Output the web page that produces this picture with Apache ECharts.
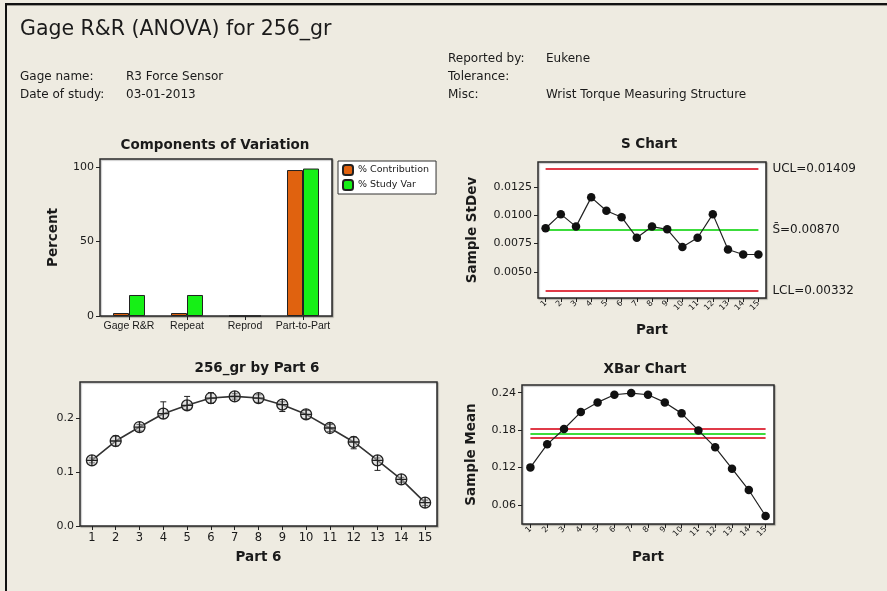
<!DOCTYPE html>
<html>
<head>
<meta charset="utf-8">
<script src="https://cdn.jsdelivr.net/npm/echarts@6/dist/echarts.min.js"></script>
<style>
html,body{margin:0;padding:0;background:#EEEBE1;}
#chart{width:887px;height:591px;}
</style>
</head>
<body>
<div id="chart"></div>
<script>
// ---------- data ----------
var components = ['Gage R&R', 'Repeat', 'Reprod', 'Part-to-Part'];
var pctContribution = [2.0, 2.0, 0.0, 98.0];
var pctStudyVar = [14.1, 14.1, 0.0, 99.0];
var percentTicks = [0, 50, 100];

var parts = ['1','2','3','4','5','6','7','8','9','10','11','12','13','14','15'];
var sValues = [0.00885, 0.0101, 0.0090, 0.01158, 0.0104, 0.00983, 0.00802, 0.0090, 0.00876, 0.00719, 0.00802, 0.0101, 0.00698, 0.00654, 0.00654];
var sUCL = 0.01409, sBar = 0.00870, sLCL = 0.00332;
var sTicks = [0.0050, 0.0075, 0.0100, 0.0125];

var partMeans = [0.1216, 0.1574, 0.1833, 0.2080, 0.2235, 0.2370, 0.2400, 0.2370, 0.2247, 0.2068, 0.1815, 0.1556, 0.1216, 0.0864, 0.0432];
var partLow  = [0.117, 0.148, 0.176, 0.199, 0.216, 0.227, 0.235, 0.229, 0.212, 0.199, 0.175, 0.143, 0.103, 0.081, 0.038];
var partHigh = [0.126, 0.167, 0.188, 0.230, 0.240, 0.247, 0.245, 0.243, 0.230, 0.214, 0.188, 0.165, 0.126, 0.090, 0.048];
var partTicks = [0.0, 0.1, 0.2];

var xbarValues = [0.1203, 0.1572, 0.1818, 0.2090, 0.2245, 0.2368, 0.2395, 0.2368, 0.2245, 0.2069, 0.1796, 0.1524, 0.1182, 0.0840, 0.0424];
var xUCL = 0.1825, xMean = 0.1750, xLCL = 0.1675;
var xbarTicks = [0.06, 0.12, 0.18, 0.24];

// ---------- styles ----------
var FONT = 'DejaVu Sans';
var TXT = '#1a1a1a';
var ORANGE = '#E0620F';
var GREEN = '#16F016';
var RED = '#E03A48';
var LGREEN = '#3CDC3C';

function frameGrid(l, t, w, h) {
  return {left: l, top: t, width: w, height: h, show: true, backgroundColor: '#ffffff',
          borderColor: '#2a2a2a', borderWidth: 1.5, containLabel: false,
          shadowColor: 'rgba(0,0,0,0.25)', shadowOffsetX: 1, shadowOffsetY: 1, shadowBlur: 1};
}
function yAx(gi, min, max, ticks, fmt, name, gap) {
  return {
    type: 'value', gridIndex: gi, min: min, max: max,
    name: name || '', nameLocation: 'middle', nameGap: gap || 0, nameRotate: 90,
    nameTextStyle: {fontFamily: FONT, fontWeight: 'bold', fontSize: 13.5, color: TXT},
    splitLine: {show: false}, axisLine: {show: false},
    axisTick: {show: true, inside: false, length: 4, lineStyle: {color: '#222'}, customValues: ticks},
    axisLabel: {fontFamily: FONT, fontSize: 11, color: TXT, margin: 6, customValues: ticks, formatter: fmt}
  };
}
function xAx(gi, labels, opts) {
  var a = {
    type: 'category', gridIndex: gi, data: labels, boundaryGap: true,
    axisLine: {show: false},
    axisTick: {show: true, alignWithLabel: true, length: 4, lineStyle: {color: '#222'}},
    axisLabel: {fontFamily: FONT, fontSize: 11, color: TXT, margin: 6, interval: 0},
    splitLine: {show: false},
    nameLocation: 'middle',
    nameTextStyle: {fontFamily: FONT, fontWeight: 'bold', fontSize: 13.5, color: TXT}
  };
  for (var k in opts) {
    if (typeof opts[k] === 'object' && !Array.isArray(opts[k]) && a[k]) { for (var j in opts[k]) a[k][j] = opts[k][j]; }
    else a[k] = opts[k];
  }
  return a;
}
function ctrlLine(v, color, label) {
  return [{coord: ['1', v], lineStyle: {color: color, width: 2, type: 'solid'},
           label: label ? {show: true, position: 'end', distance: 14, formatter: label,
                           fontFamily: FONT, fontSize: 12, color: TXT} : {show: false}},
          {coord: ['15', v]}];
}

var chart = echarts.init(document.getElementById('chart'), null, {renderer: 'canvas'});

var H = '12px ' + FONT;
var T = 'bold 13.5px ' + FONT;
var option = {
  backgroundColor: '#EEEBE1',
  animation: false,
  textStyle: {fontFamily: FONT},
  graphic: [
    {type: 'rect', shape: {x: 5, y: 3, width: 882, height: 2}, style: {fill: '#111'}},
    {type: 'rect', shape: {x: 5, y: 5, width: 882, height: 1}, style: {fill: '#9a9890'}},
    {type: 'rect', shape: {x: 5, y: 3, width: 2, height: 588}, style: {fill: '#111'}},
    {type: 'text', x: 20, y: 30, style: {text: 'Gage R&R (ANOVA) for 256_gr', font: '20.5px ' + FONT, fill: TXT, verticalAlign: 'middle'}},
    {type: 'text', x: 20, y: 77, style: {text: 'Gage name:', font: H, fill: TXT, verticalAlign: 'middle'}},
    {type: 'text', x: 126, y: 77, style: {text: 'R3 Force Sensor', font: H, fill: TXT, verticalAlign: 'middle'}},
    {type: 'text', x: 20, y: 95, style: {text: 'Date of study:', font: H, fill: TXT, verticalAlign: 'middle'}},
    {type: 'text', x: 126, y: 95, style: {text: '03-01-2013', font: H, fill: TXT, verticalAlign: 'middle'}},
    {type: 'text', x: 448, y: 59, style: {text: 'Reported by:', font: H, fill: TXT, verticalAlign: 'middle'}},
    {type: 'text', x: 546, y: 59, style: {text: 'Eukene', font: H, fill: TXT, verticalAlign: 'middle'}},
    {type: 'text', x: 448, y: 77, style: {text: 'Tolerance:', font: H, fill: TXT, verticalAlign: 'middle'}},
    {type: 'text', x: 448, y: 95, style: {text: 'Misc:', font: H, fill: TXT, verticalAlign: 'middle'}},
    {type: 'text', x: 546, y: 95, style: {text: 'Wrist Torque Measuring Structure', font: H, fill: TXT, verticalAlign: 'middle'}},
    {type: 'text', x: 215, y: 145, style: {text: 'Components of Variation', font: T, fill: TXT, align: 'center', verticalAlign: 'middle'}},
    {type: 'text', x: 649, y: 144, style: {text: 'S Chart', font: T, fill: TXT, align: 'center', verticalAlign: 'middle'}},
    {type: 'text', x: 257, y: 368, style: {text: '256_gr by Part 6', font: T, fill: TXT, align: 'center', verticalAlign: 'middle'}},
    {type: 'text', x: 645, y: 369, style: {text: 'XBar Chart', font: T, fill: TXT, align: 'center', verticalAlign: 'middle'}}
  ],
  legend: {
    data: ['% Contribution', '% Study Var'],
    left: 338, top: 161, orient: 'vertical',
    backgroundColor: '#ffffff', borderColor: '#333', borderWidth: 1,
    padding: [3, 7, 3, 4], itemWidth: 10, itemHeight: 10, itemGap: 3,
    textStyle: {fontFamily: FONT, fontSize: 9.5, color: TXT},
    selectedMode: false
  },
  grid: [
    frameGrid(100, 159, 232, 157),
    frameGrid(538, 162, 228, 136),
    frameGrid(80, 382, 357, 144),
    frameGrid(522, 385, 252, 139)
  ],
  xAxis: [
    xAx(0, components, {axisLabel: {fontFamily: 'Liberation Sans Narrow, Liberation Sans', fontSize: 10.5, margin: 5}}),
    xAx(1, parts, {name: 'Part', nameGap: 25, axisLabel: {fontSize: 8, rotate: 45, margin: 4}}),
    xAx(2, parts, {name: 'Part 6', nameGap: 24, axisLabel: {fontSize: 11.5, margin: 6}}),
    xAx(3, parts, {name: 'Part', nameGap: 26, axisLabel: {fontSize: 8, rotate: 45, margin: 4}})
  ],
  yAxis: [
    yAx(0, 0, 105.4, percentTicks, function (v) { return v.toFixed(0); }, 'Percent', 40),
    yAx(1, 0.0027, 0.0147, sTicks, function (v) { return v.toFixed(4); }, 'Sample StDev', 59),
    yAx(2, 0, 0.2667, partTicks, function (v) { return v.toFixed(1); }, '', 0),
    yAx(3, 0.0295, 0.2524, xbarTicks, function (v) { return v.toFixed(2); }, 'Sample Mean', 44)
  ],
  series: [
    {name: '% Contribution', type: 'bar', xAxisIndex: 0, yAxisIndex: 0, data: pctContribution,
     barWidth: 16, barGap: '0%', itemStyle: {color: ORANGE, borderColor: '#222', borderWidth: 1}},
    {name: '% Study Var', type: 'bar', xAxisIndex: 0, yAxisIndex: 0, data: pctStudyVar,
     barWidth: 16, barGap: '0%', itemStyle: {color: GREEN, borderColor: '#222', borderWidth: 1}},

    {type: 'line', xAxisIndex: 1, yAxisIndex: 1, data: sValues, symbol: 'circle', symbolSize: 8.5,
     itemStyle: {color: '#111'}, lineStyle: {color: '#222', width: 1.2}, z: 5,
     markLine: {silent: true, symbol: 'none', animation: false,
       data: [ctrlLine(sUCL, RED, 'UCL=' + sUCL.toFixed(5)),
              ctrlLine(sBar, LGREEN, 'S\u0304=' + sBar.toFixed(5)),
              ctrlLine(sLCL, RED, 'LCL=' + sLCL.toFixed(5))]}},

    {type: 'custom', xAxisIndex: 2, yAxisIndex: 2,
     data: parts.map(function (p, i) { return [i, partLow[i], partHigh[i]]; }),
     renderItem: function (params, api) {
       var lo = api.coord([api.value(0), api.value(1)]);
       var hi = api.coord([api.value(0), api.value(2)]);
       var st = {stroke: '#222', lineWidth: 1};
       return {type: 'group', children: [
         {type: 'line', shape: {x1: lo[0], y1: lo[1], x2: hi[0], y2: hi[1]}, style: st},
         {type: 'line', shape: {x1: lo[0] - 3, y1: lo[1], x2: lo[0] + 3, y2: lo[1]}, style: st},
         {type: 'line', shape: {x1: hi[0] - 3, y1: hi[1], x2: hi[0] + 3, y2: hi[1]}, style: st}
       ]};
     }, z: 3},
    {type: 'line', xAxisIndex: 2, yAxisIndex: 2, data: partMeans,
     symbol: 'path://M5,0A5,5,0,1,1,5,10A5,5,0,1,1,5,0ZM0,5L10,5M5,0L5,10', symbolSize: 11,
     itemStyle: {color: 'rgba(200,200,200,0.5)', borderColor: '#222', borderWidth: 1.3},
     lineStyle: {color: '#333', width: 1.6}, z: 4},

    {type: 'line', xAxisIndex: 3, yAxisIndex: 3, data: xbarValues, symbol: 'circle', symbolSize: 8.5,
     itemStyle: {color: '#111'}, lineStyle: {color: '#222', width: 1.2}, z: 5,
     markLine: {silent: true, symbol: 'none', animation: false,
       data: [ctrlLine(xUCL, RED, null), ctrlLine(xMean, LGREEN, null), ctrlLine(xLCL, RED, null)]}}
  ]
};
chart.setOption(option);
</script>
</body>
</html>
